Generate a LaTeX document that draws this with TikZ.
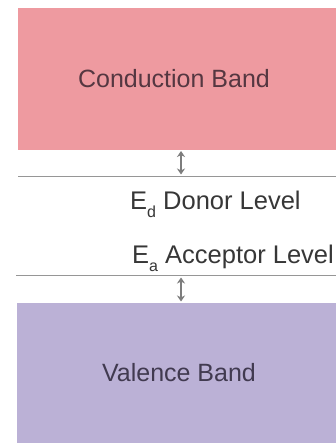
\documentclass[tikz,border=0pt]{standalone}
\usepackage{fontspec}
\setmainfont{Liberation Sans}
\usetikzlibrary{arrows.meta}
\definecolor{cbpink}{RGB}{238,154,160}
\definecolor{vblav}{RGB}{187,177,214}
\definecolor{levelgray}{RGB}{150,150,150}
\definecolor{arrowgray}{RGB}{125,125,125}
\definecolor{cbtext}{RGB}{85,55,65}
\definecolor{vbtext}{RGB}{65,58,80}
\definecolor{lvtext}{RGB}{55,55,55}
\tikzset{
  band/.style={rectangle, inner sep=0pt, anchor=north west, minimum width=330pt},
  bandtext/.style={inner sep=0pt, anchor=base, font=\fontsize{25}{30}\selectfont},
  leveltext/.style={inner sep=0pt, anchor=base west, text=lvtext, font=\fontsize{25.5}{30}\selectfont},
  levelline/.style={draw=levelgray, line width=1.8pt},
  gaparrow/.style={draw=arrowgray, line width=1.8pt, {Stealth[width=8pt,length=6pt]}-{Stealth[width=8pt,length=6pt]}}
}
\newcommand{\subtxt}[1]{\raisebox{-0.3em}{\fontsize{16}{16}\selectfont #1}}
\begin{document}
\begin{tikzpicture}[x=1pt,y=-1pt]
  \useasboundingbox (0,0) rectangle (336,443);
  \clip (0,0) rectangle (336,443);
  \fill[white] (0,0) rectangle (336,443);
  % bands
  \node[band, fill=cbpink, minimum height=142pt] (cb) at (18,8) {};
  \node[band, fill=vblav, minimum height=145pt] (vb) at (17,303) {};
  \node[bandtext, text=cbtext] (cbl) at (174,87.5) {Conduction Band};
  \node[bandtext, text=vbtext] (vbl) at (179,381) {Valence Band};
  % level lines
  \coordinate (d1) at (18,176.5);
  \coordinate (d2) at (340,176.5);
  \coordinate (a1) at (16,275.5);
  \coordinate (a2) at (340,275.5);
  \draw[levelline] (d1) -- (d2);
  \draw[levelline] (a1) -- (a2);
  % labels
  \node[leveltext] (ed) at (130,210) {E\subtxt{d} Donor Level};
  \node[leveltext] (ea) at (132,263.5) {E\subtxt{a} Acceptor Level};
  % gap arrows
  \coordinate (u1) at (181,151);
  \coordinate (u2) at (181,174.5);
  \coordinate (l1) at (181,277.5);
  \coordinate (l2) at (181,301.5);
  \draw[gaparrow] (u1) -- (u2);
  \draw[gaparrow] (l1) -- (l2);
\end{tikzpicture}
\end{document}
